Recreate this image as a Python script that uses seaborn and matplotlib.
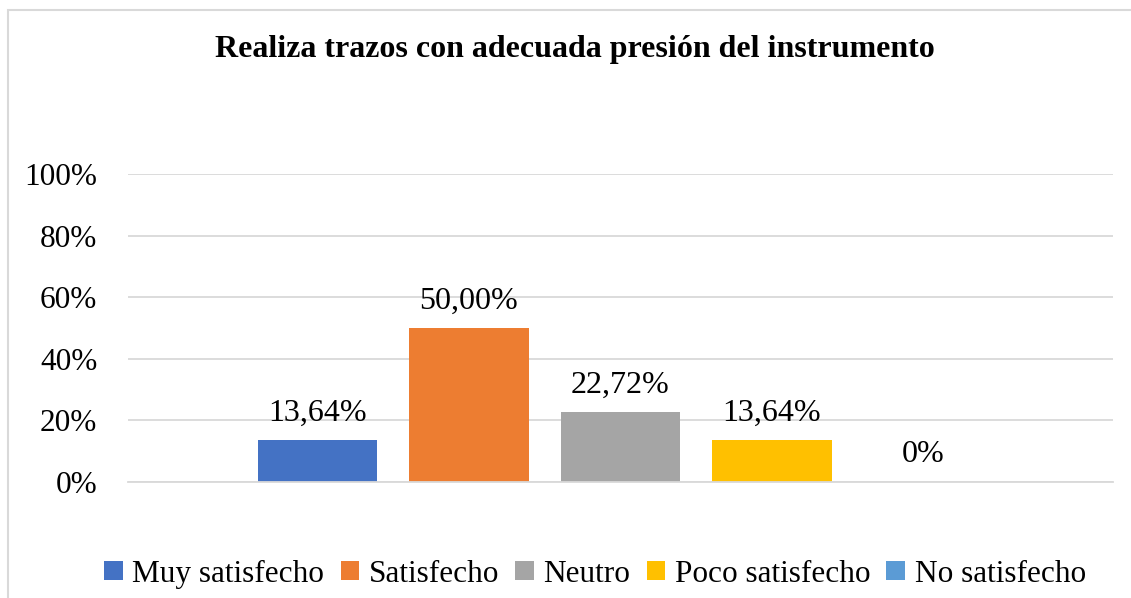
# Realiza trazos con adecuada presión del instrumento - bar chart
import numpy as np
import matplotlib
matplotlib.use("Agg")
import matplotlib.pyplot as plt
import seaborn as sns
from matplotlib.patches import Rectangle, Patch

# Data
categories = ["Muy satisfecho", "Satisfecho", "Neutro", "Poco satisfecho", "No satisfecho"]
values = [0.1364, 0.5000, 0.2272, 0.1364, 0.0]
bar_labels = ["13,64%", "50,00%", "22,72%", "13,64%", "0%"]
colors = ["#4472C4", "#ED7D31", "#A5A5A5", "#FFC000", "#5B9BD5"]
yticks = [0, 0.2, 0.4, 0.6, 0.8, 1.0]
ytick_labels = ["0%", "20%", "40%", "60%", "80%", "100%"]

sns.set_style("white")
plt.rcParams["font.family"] = ["Liberation Serif", "DejaVu Serif"]
plt.rcParams["text.color"] = "black"
plt.rcParams["ytick.color"] = "black"

W, H = 1131, 598
fig = plt.figure(figsize=(W / 100, H / 100), dpi=100)
ax = fig.add_axes([128 / W, 1 - 482 / H, (1113 - 128) / W, (482 - 174) / H])

sns.barplot(x=categories, y=values, hue=categories, palette=colors,
            width=0.79, saturation=1, legend=False, linewidth=0, ax=ax)

ax.set_xlim(-1.25, 5.25)
ax.set_ylim(0, 1)
ax.set_yticks(yticks)
ax.set_yticklabels(ytick_labels, fontsize=22.5)
ax.set_xticks([])
ax.set_xlabel("")
ax.set_ylabel("")
ax.tick_params(axis="y", length=0, pad=22, colors="black")
ax.grid(axis="y", color="#D9D9D9", linewidth=1.3)
ax.set_axisbelow(True)
for s in ["top", "right", "left"]:
    ax.spines[s].set_visible(False)
ax.spines["bottom"].set_color("#D9D9D9")
ax.spines["bottom"].set_linewidth(1.3)

# data labels
for i, (v, lab) in enumerate(zip(values, bar_labels)):
    ax.annotate(lab, (i, v), xytext=(0, 9), textcoords="offset points",
                ha="center", va="bottom", fontsize=23, color="black")

# title
fig.text(575 / W, 1 - 49 / H, "Realiza trazos con adecuada presión del instrumento",
         ha="center", va="center", fontsize=23, fontweight="bold", color="black")

# legend
handles = [Patch(facecolor=c, edgecolor="none") for c in colors]
fig.legend(handles, categories, loc="center", bbox_to_anchor=(595 / W, 1 - 574 / H),
           ncol=5, frameon=False, fontsize=22.5, handlelength=0.6, handleheight=0.6,
           handletextpad=0.3, columnspacing=0.52, borderaxespad=0, labelcolor="black")

# chart border
fig.patches.append(Rectangle((8 / W, -0.1), 1.1, 1 - 10 / H + 0.1, transform=fig.transFigure,
                             fill=False, edgecolor="#D9D9D9", linewidth=1.5))

fig.savefig("out.png", dpi=100)
